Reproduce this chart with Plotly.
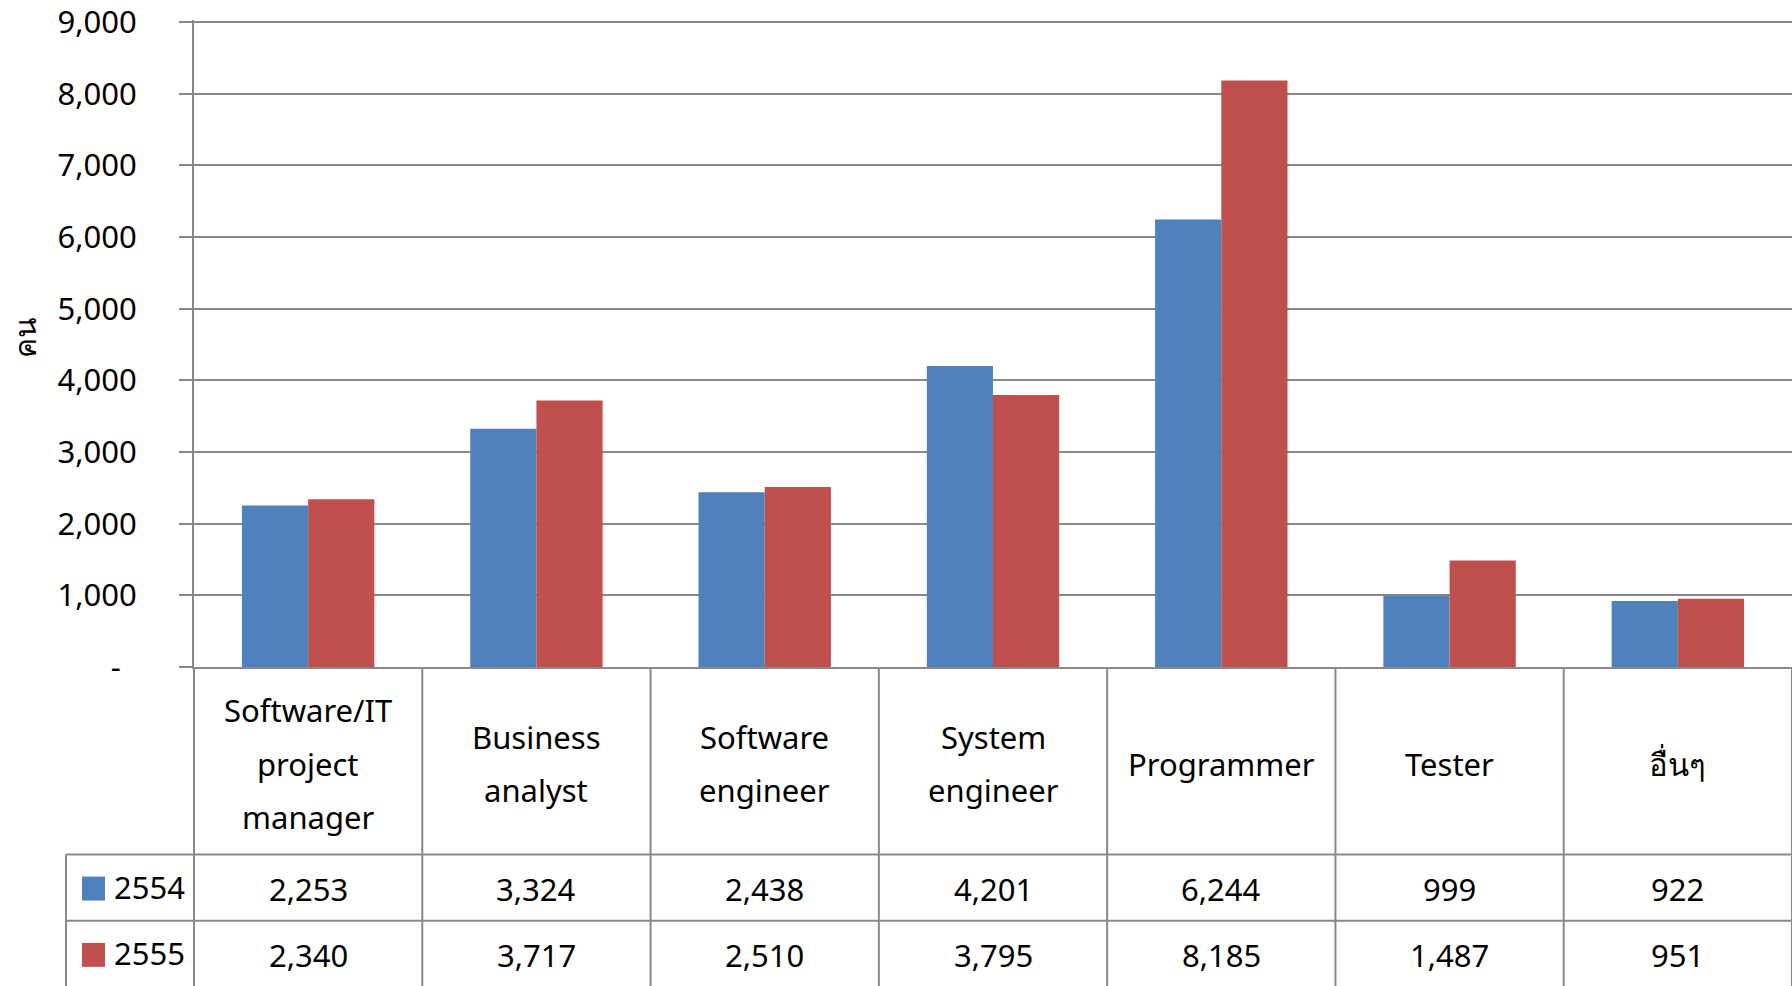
import plotly.graph_objects as go

categories = ["Software/IT\nproject\nmanager", "Business\nanalyst", "Software\nengineer",
              "System\nengineer", "Programmer", "Tester", "อื่นๆ"]
series_names = ["2554", "2555"]
values_2554 = [2253, 3324, 2438, 4201, 6244, 999, 922]
values_2555 = [2340, 3717, 2510, 3795, 8185, 1487, 951]
series_values = [values_2554, values_2555]
series_colors = ["#4F81BD", "#C0504D"]
tick_vals = [0, 1000, 2000, 3000, 4000, 5000, 6000, 7000, 8000, 9000]
tick_text = ["-\u00a0\u00a0"] + [f"{v:,}" for v in tick_vals[1:]]
y_title = "คน"

W, H = 1792, 986
ML, MR, MT, MB = 194, 0, 18, 319
PW, PH = W - ML - MR, H - MT - MB
FONT = "Noto Sans, Tahoma, DejaVu Sans, sans-serif"
GRID = "#898989"
FS = 31

x_keys = [c.replace("\n", " ") for c in categories]


def py(pix):  # pixel y -> paper y
    return (H - MB - pix) / PH


def px(pix):  # pixel x -> paper x
    return (pix - ML) / PW


fig = go.Figure()
for name, vals, col in zip(series_names, series_values, series_colors):
    fig.add_trace(go.Bar(x=x_keys, y=vals, name=name, marker=dict(color=col, line=dict(width=0))))

shapes = []
annotations = []

zero_pix = H - MB
header_bottom = zero_pix + 188
row_h = 66.5
row_bottoms = [header_bottom + row_h * (i + 1) for i in range(len(series_names))]
n = len(categories)

# vertical column borders (incl. y-axis extension)
for i in range(n + 1):
    xp = i / n
    shapes.append(dict(type="line", xref="paper", yref="paper", x0=xp, x1=xp,
                       y0=0, y1=py(H + 20), line=dict(color=GRID, width=2)))
# legend column left border
shapes.append(dict(type="line", xref="paper", yref="paper", x0=px(66), x1=px(66),
                   y0=py(header_bottom), y1=py(H + 20), line=dict(color=GRID, width=2)))
# horizontal rows
for yb in [header_bottom] + row_bottoms:
    shapes.append(dict(type="line", xref="paper", yref="paper", x0=px(66), x1=1,
                       y0=py(yb), y1=py(yb), line=dict(color=GRID, width=2)))

# header labels
header_center = zero_pix + 97
line_sp = 53.5
for key, cat in zip(x_keys, categories):
    lines = cat.split("\n")
    for k, ln in enumerate(lines):
        off = (k - (len(lines) - 1) / 2) * line_sp
        annotations.append(dict(x=key, xref="x", y=py(header_center), yref="paper",
                                text=ln, showarrow=False, yshift=-off,
                                xanchor="center", yanchor="middle",
                                font=dict(family=FONT, size=FS, color="black")))

# data rows
for r, (name, vals, col) in enumerate(zip(series_names, series_values, series_colors)):
    top = header_bottom + row_h * r
    cy = top + row_h / 2 + 1
    for key, v in zip(x_keys, vals):
        annotations.append(dict(x=key, xref="x", y=py(cy), yref="paper",
                                text=f"{v:,}", showarrow=False,
                                xanchor="center", yanchor="middle",
                                font=dict(family=FONT, size=FS, color="black")))
    shapes.append(dict(type="rect", xref="paper", yref="paper",
                       x0=px(82), x1=px(105), y0=py(cy - 12), y1=py(cy + 12),
                       fillcolor=col, line=dict(width=0)))
    annotations.append(dict(x=px(112), xref="paper", y=py(cy - 2), yref="paper",
                            text=name, showarrow=False, xanchor="left", yanchor="middle",
                            font=dict(family=FONT, size=FS, color="black")))

# y title
annotations.append(dict(x=px(24), xref="paper", y=py(337), yref="paper", text=y_title,
                        textangle=-90, showarrow=False, xanchor="center", yanchor="middle",
                        font=dict(family=FONT, size=30, color="black")))

fig.update_layout(
    width=W, height=H,
    margin=dict(l=ML, r=MR, t=MT, b=MB),
    paper_bgcolor="white", plot_bgcolor="white",
    barmode="group", bargap=0.42, bargroupgap=0,
    showlegend=False,
    shapes=shapes, annotations=annotations,
    font=dict(family=FONT, size=FS, color="black"),
)
fig.update_xaxes(showticklabels=False, showgrid=False, showline=True, linecolor=GRID,
                 linewidth=2, ticks="", range=[-0.5, n - 0.5], fixedrange=True)
fig.update_yaxes(range=[0, 9028], tickvals=tick_vals, ticktext=tick_text,
                 showgrid=True, gridcolor=GRID, gridwidth=2, zeroline=False,
                 showline=True, linecolor=GRID, linewidth=2,
                 ticks="outside", ticklen=13, tickcolor=GRID, tickwidth=2,
                 ticklabelstandoff=36, ticklabeloverflow="allow",
                 tickfont=dict(family=FONT, size=FS, color="black"))

fig.write_html("out.html", config={"displayModeBar": False},
               post_script="document.body.style.margin='0';document.body.style.overflow='hidden';")
